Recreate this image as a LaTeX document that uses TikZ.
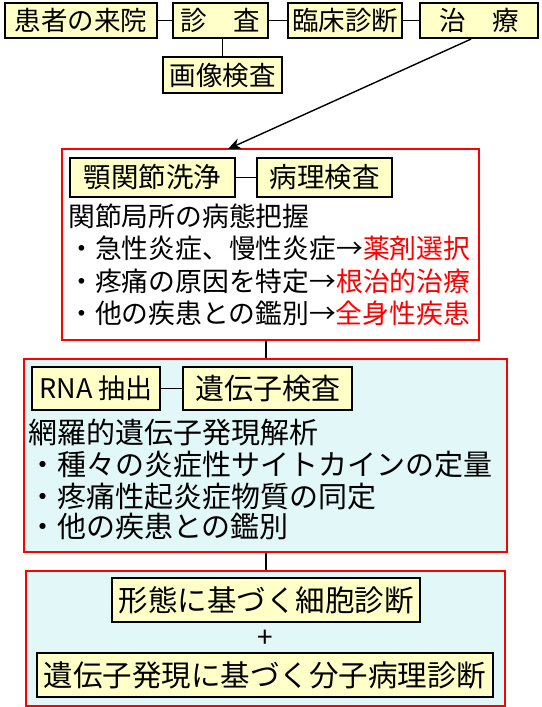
\documentclass[tikz,border=0pt]{standalone}
\usepackage{fontspec}
\setmainfont{Noto Sans CJK JP}
\usetikzlibrary{arrows.meta}
\definecolor{boxyellow}{RGB}{255,255,200}
\definecolor{boxcyan}{RGB}{226,247,247}
\definecolor{myred}{RGB}{255,0,0}
\newcommand{\rarr}{\makebox[1em]{→}}
\tikzset{
  ybox/.style={draw=black, line width=2.2pt, fill=boxyellow, inner sep=0pt,
    font=\fontsize{26.5}{30}\selectfont},
  frame/.style={draw=myred, line width=2.4pt, inner sep=0pt},
  line/.style={draw=black, line width=1.8pt},
  txt/.style={anchor=west, inner sep=0pt, font=\fontsize{26.8}{30}\selectfont},
  txtb/.style={anchor=west, inner sep=0pt, font=\fontsize{29}{32}\selectfont},
}
\begin{document}
\begin{tikzpicture}[x=1pt,y=-1pt]
\useasboundingbox (0,0) rectangle (541,707);
% top row
\node[ybox, minimum width=152pt, minimum height=35pt] (a) at (81,20.5) {患者の来院};
\node[ybox, minimum width=95pt, minimum height=35pt] (b) at (220.5,20.5) {診　査};
\node[ybox, minimum width=114pt, minimum height=35pt] (c) at (345,20.5) {臨床診断};
\node[ybox, minimum width=118pt, minimum height=35pt] (d) at (479,20.5) {治　療};
\node[ybox, minimum width=119pt, minimum height=36pt] (e) at (222.5,75) {画像検査};
\draw[line] (a) -- (b);
\draw[line] (b) -- (c);
\draw[line] (c) -- (d);
\draw[line] (e.north) -- (e.north |- b.south);
% box 1
\node[frame, fill=white, minimum width=417pt, minimum height=191pt] (f1) at (270.5,244.5) {};
\coordinate (arrend) at (228,149);
\draw[line, line width=1.4pt, -{Stealth[length=13pt,width=11pt]}] ([xshift=-8pt]d.south) -- (arrend);
\node[ybox, minimum width=165pt, minimum height=39pt, font=\fontsize{27.5}{30}\selectfont] (g) at (152.5,177.5) {顎関節洗浄};
\node[ybox, minimum width=135pt, minimum height=39pt, font=\fontsize{27.5}{30}\selectfont] (h) at (324.5,177.5) {病理検査};
\draw[line] (g) -- (h);
\node[txt] (t1) at (68,216) {関節局所の病態把握};
\node[txt] (t2) at (68,248.5) {・急性炎症、慢性炎症\rarr\textcolor{myred}{薬剤選択}};
\node[txt] (t3) at (68,281) {・疼痛の原因を特定\rarr\textcolor{myred}{根治的治療}};
\node[txt] (t4) at (68,313.5) {・他の疾患との鑑別\rarr\textcolor{myred}{全身性疾患}};
% box 2
\node[frame, fill=boxcyan, minimum width=483pt, minimum height=193pt] (f2) at (265.5,455.5) {};
\node[ybox, minimum width=128pt, minimum height=43pt, font=\fontsize{27}{30}\selectfont] (i) at (96,388.5) {RNA 抽出};
\node[ybox, minimum width=169pt, minimum height=43pt, font=\fontsize{29}{32}\selectfont] (j) at (267.5,388.5) {遺伝子検査};
\draw[line] (i) -- (j);
\node[txtb] (u1) at (28,433) {網羅的遺伝子発現解析};
\node[txtb] (u2) at (28,465) {・種々の炎症性サイトカインの定量};
\node[txtb] (u3) at (28,497) {・疼痛性起炎症物質の同定};
\node[txtb] (u4) at (28,527) {・他の疾患との鑑別};
% box 3
\node[frame, fill=boxcyan, minimum width=479pt, minimum height=135pt] (f3) at (265.5,638.5) {};
\node[ybox, minimum width=308pt, minimum height=44pt, font=\fontsize{29.5}{32}\selectfont] (k) at (266,600) {形態に基づく細胞診断};
\node[inner sep=0pt, font=\fontsize{28}{30}\selectfont] (plus) at (265,639) {+};
\node[ybox, minimum width=456pt, minimum height=44pt, font=\fontsize{29.5}{32}\selectfont] (l) at (265,675) {遺伝子発現に基づく分子病理診断};
% vertical connectors
\draw[line] (f1.south -| 266,0) -- (f2.north -| 266,0);
\draw[line] (f2.south -| 266,0) -- (f3.north -| 266,0);
\end{tikzpicture}
\end{document}
